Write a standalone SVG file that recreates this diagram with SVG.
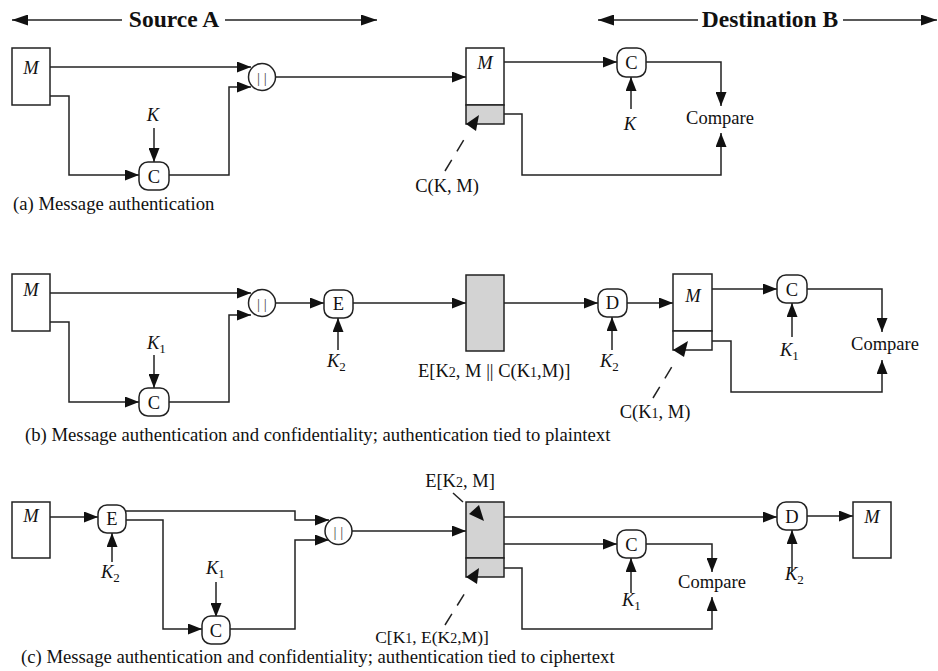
<svg xmlns="http://www.w3.org/2000/svg" width="938" height="671" viewBox="0 0 938 671">
<defs>
<marker id="ah" markerWidth="14" markerHeight="11" refX="14" refY="5.5" orient="auto" markerUnits="userSpaceOnUse"><path d="M0,0 L14,5.5 L0,11 z" fill="#111"/></marker>
<marker id="hd" markerWidth="16" markerHeight="11" refX="16" refY="5.5" orient="auto" markerUnits="userSpaceOnUse"><path d="M0,0 L16,5.5 L0,11 z" fill="#111"/></marker>
</defs>
<style>
text{font-family:"Liberation Serif","Times New Roman",serif;fill:#111}
.lbl{font-size:18.5px}
.cap{font-size:18.7px}
.hdr{font-size:23.5px;font-weight:bold}
.it{font-style:italic}
.sub{font-size:13px;font-style:normal}
.sm{font-size:14px}
.bar{font-size:15px;fill:#444}
.ln{fill:none;stroke:#222;stroke-width:1.5}
.ar{fill:none;stroke:#222;stroke-width:1.5;marker-end:url(#ah)}
.hl{fill:none;stroke:#222;stroke-width:1.5;marker-end:url(#hd)}
.dash{fill:none;stroke:#222;stroke-width:1.5;stroke-dasharray:13 10}
.box{fill:#fff;stroke:#222;stroke-width:1.5}
.gbox{fill:#d3d3d3;stroke:#222;stroke-width:1.5}
.fn{fill:#fff;stroke:#222;stroke-width:1.5}
.ptr{fill:#111}
.c{text-anchor:middle}
</style>
<rect width="938" height="671" fill="#fff"/>

<g id="headers">
<path class="hl" d="M122,20 H12"/>
<path class="hl" d="M225,20 H377"/>
<text class="hdr" x="174" y="27" text-anchor="middle">Source A</text>
<path class="hl" d="M698,20 H598"/>
<path class="hl" d="M843,20 H937"/>
<text class="hdr" x="770" y="27" text-anchor="middle">Destination B</text>
</g>

<g id="connectors">
<!-- (a) -->
<path class="ar" d="M50,67 H251"/>
<path class="ar" d="M50,96 H69 V175 H139"/>
<path class="ar" d="M154,128 V162"/>
<path class="ar" d="M169,175 H229 V87 H251"/>
<path class="ar" d="M276,77 H466"/>
<path class="ar" d="M504,62 H617"/>
<path class="ar" d="M631,109 V77"/>
<path class="ar" d="M646,62 H721 V106"/>
<path class="ar" d="M504,114 H522 V175 H721 V133"/>
<path class="dash" d="M445,171 L465,138"/>
<!-- (b) -->
<path class="ar" d="M50,293 H251"/>
<path class="ar" d="M50,322 H69 V402 H139"/>
<path class="ar" d="M154,355 V388"/>
<path class="ar" d="M169,402 H229 V315 H251"/>
<path class="ar" d="M276,303 H324"/>
<path class="ar" d="M338,350 V318"/>
<path class="ar" d="M353,303 H466"/>
<path class="ar" d="M504,303 H598"/>
<path class="ar" d="M612,350 V317"/>
<path class="ar" d="M627,303 H673"/>
<path class="ar" d="M712,289 H777"/>
<path class="ar" d="M792,337 V303"/>
<path class="ar" d="M807,289 H882 V332"/>
<path class="ar" d="M712,341 H731 V392 H882 V360"/>
<path class="dash" d="M653,398 L673,365"/>
<!-- (c) -->
<path class="ar" d="M50,517 H98"/>
<path class="ar" d="M112,562 V533"/>
<path class="ar" d="M126,511 H295 V520 H329"/>
<path class="ar" d="M126,520 H163 V629 H202"/>
<path class="ar" d="M216,582 V617"/>
<path class="ar" d="M230,629 H295 V540 H329"/>
<path class="ar" d="M352,531 H466"/>
<path class="ar" d="M504,517 H777"/>
<path class="ar" d="M504,544 H617"/>
<path class="ar" d="M631,593 V558"/>
<path class="ar" d="M646,544 H712 V572"/>
<path class="ar" d="M504,568 H522 V629 H712 V597"/>
<path class="ar" d="M792,572 V530"/>
<path class="ar" d="M807,516 H853"/>
<path class="dash" d="M445,625 L465,593"/>
<path class="ln" d="M453,493 L463,502"/>
</g>

<!-- (a) nodes -->
<g id="a-M"><rect class="box" x="12" y="48" width="38" height="57"/><text class="lbl it c" x="31" y="74">M</text></g>
<g id="a-K"><text class="lbl it c" x="153" y="121">K</text></g>
<g id="a-C"><rect class="fn" x="139" y="162" width="30" height="28" rx="9"/><text class="lbl c" x="154" y="183">C</text></g>
<g id="a-concat"><circle class="fn" cx="262" cy="77" r="13.5"/><text class="bar c" x="262" y="83">| |</text></g>
<g id="a-msg"><rect class="box" x="466" y="48" width="38" height="57"/><rect class="gbox" x="466" y="105" width="38" height="19"/><text class="lbl it c" x="485" y="69">M</text><polygon class="ptr" points="466,124 479,115 476,131"/></g>
<g id="a-tag"><text class="lbl c" x="447" y="192">C(K, M)</text></g>
<g id="a-C2"><rect class="fn" x="617" y="48" width="29" height="29" rx="9"/><text class="lbl c" x="631.5" y="69">C</text></g>
<g id="a-K2"><text class="lbl it c" x="630" y="130">K</text></g>
<g id="a-cmp"><text class="lbl c" x="720" y="124">Compare</text></g>
<g id="a-cap"><text class="cap" x="13" y="210">(a) Message authentication</text></g>

<!-- (b) nodes -->
<g id="b-M"><rect class="box" x="12" y="274" width="38" height="57"/><text class="lbl it c" x="31" y="296">M</text></g>
<g id="b-K1"><text class="lbl it" x="147" y="349">K<tspan class="sub" dy="4">1</tspan></text></g>
<g id="b-C"><rect class="fn" x="139" y="388" width="30" height="28" rx="9"/><text class="lbl c" x="154" y="409">C</text></g>
<g id="b-concat"><circle class="fn" cx="262" cy="303" r="13.5"/><text class="bar c" x="262" y="309">| |</text></g>
<g id="b-E"><rect class="fn" x="324" y="290" width="29" height="28" rx="9"/><text class="lbl c" x="338.5" y="310">E</text></g>
<g id="b-K2"><text class="lbl it" x="327" y="367">K<tspan class="sub" dy="4">2</tspan></text></g>
<g id="b-cipher"><rect class="gbox" x="466" y="275" width="38" height="76"/></g>
<g id="b-cipher-lbl"><text class="lbl" x="418" y="377">E[K<tspan class="sm">2</tspan>, M || C(K<tspan class="sm">1</tspan>,M)]</text></g>
<g id="b-D"><rect class="fn" x="598" y="289" width="29" height="28" rx="9"/><text class="lbl c" x="612.5" y="309">D</text></g>
<g id="b-K2d"><text class="lbl it" x="600" y="367">K<tspan class="sub" dy="4">2</tspan></text></g>
<g id="b-msg"><rect class="box" x="673" y="274" width="39" height="57"/><rect class="box" x="673" y="331" width="39" height="19"/><text class="lbl it c" x="693" y="302">M</text><polygon class="ptr" points="673,350 688,341 684,357"/></g>
<g id="b-tag"><text class="lbl c" x="655" y="418">C(K<tspan class="sm">1</tspan>, M)</text></g>
<g id="b-C2"><rect class="fn" x="777" y="275" width="30" height="28" rx="9"/><text class="lbl c" x="792" y="296">C</text></g>
<g id="b-K1d"><text class="lbl it" x="780" y="356">K<tspan class="sub" dy="4">1</tspan></text></g>
<g id="b-cmp"><text class="lbl c" x="885" y="350">Compare</text></g>
<g id="b-cap"><text class="cap" x="25" y="441">(b) Message authentication and confidentiality; authentication tied to plaintext</text></g>

<!-- (c) nodes -->
<g id="c-M"><rect class="box" x="12" y="502" width="38" height="56"/><text class="lbl it c" x="31" y="522">M</text></g>
<g id="c-E"><rect class="fn" x="98" y="505" width="28" height="28" rx="9"/><text class="lbl c" x="112" y="525">E</text></g>
<g id="c-K2"><text class="lbl it" x="101" y="578">K<tspan class="sub" dy="4">2</tspan></text></g>
<g id="c-K1"><text class="lbl it" x="206" y="574">K<tspan class="sub" dy="4">1</tspan></text></g>
<g id="c-C"><rect class="fn" x="202" y="616" width="28" height="28" rx="9"/><text class="lbl c" x="216" y="637">C</text></g>
<g id="c-concat"><circle class="fn" cx="338.5" cy="531" r="13.5"/><text class="bar c" x="338.5" y="537">| |</text></g>
<g id="c-msg"><rect class="gbox" x="466" y="502" width="38" height="56"/><rect class="gbox" x="466" y="558" width="38" height="19"/><polygon class="ptr" points="479,505 469,514 484,521"/><polygon class="ptr" points="466,577 479,568 477,584"/></g>
<g id="c-cipher-lbl"><text class="lbl c" x="460" y="487">E[K<tspan class="sm">2</tspan>, M]</text></g>
<g id="c-tag"><text class="c" x="432" y="643" font-size="17.5">C[K<tspan class="sm">1</tspan>, E(K<tspan class="sm">2</tspan>,M)]</text></g>
<g id="c-C2"><rect class="fn" x="617" y="530" width="29" height="28" rx="9"/><text class="lbl c" x="631.5" y="551">C</text></g>
<g id="c-K1d"><text class="lbl it" x="622" y="606">K<tspan class="sub" dy="4">1</tspan></text></g>
<g id="c-cmp"><text class="lbl c" x="712" y="588">Compare</text></g>
<g id="c-D"><rect class="fn" x="777" y="502" width="30" height="28" rx="9"/><text class="lbl c" x="792" y="523">D</text></g>
<g id="c-K2d"><text class="lbl it" x="785" y="580">K<tspan class="sub" dy="4">2</tspan></text></g>
<g id="c-out"><rect class="box" x="853" y="502" width="38" height="56"/><text class="lbl it c" x="872" y="523">M</text></g>
<g id="c-cap"><text class="cap" x="21" y="663">(c) Message authentication and confidentiality; authentication tied to ciphertext</text></g>
</svg>
